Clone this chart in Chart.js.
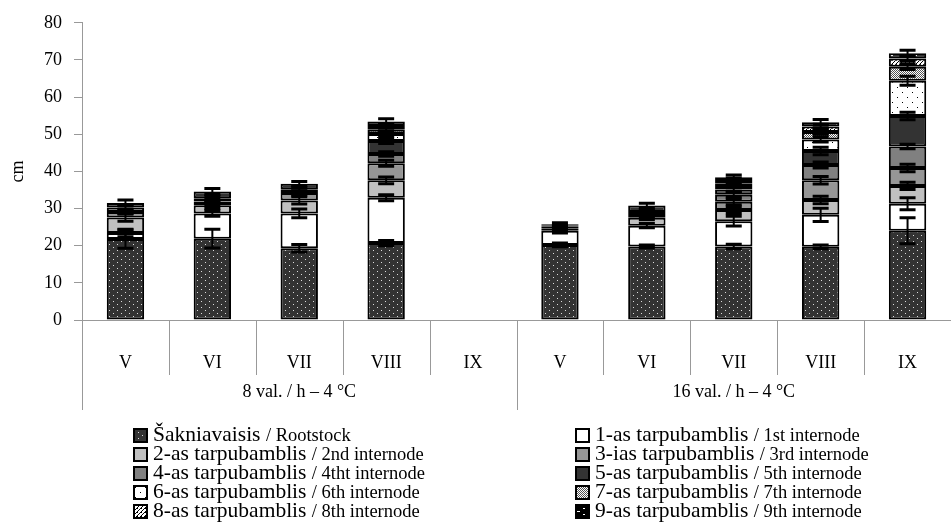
<!DOCTYPE html>
<html>
<head>
<meta charset="utf-8">
<script src="https://cdn.jsdelivr.net/npm/chart.js@4.4.1/dist/chart.umd.min.js"></script>
<style>
    html, body { margin: 0; padding: 0; background: #fff; }
    #wrap { position: relative; width: 951px; height: 525px; }
    #legend { position: absolute; left: 0; top: 0; font-family: "Liberation Serif", serif; color: #000; }
    .item { position: absolute; white-space: nowrap; height: 19px; line-height: 19px; padding-left: 20px; }
    .item canvas { position: absolute; left: 0; top: 3px; }
    .lt { font-size: 21.5px; }
    .en { font-size: 18.5px; }
</style>
</head>
<body>
<div id="wrap">
    <canvas id="chart" width="951" height="525"></canvas>
    <div id="legend"></div>
</div>
<script>
// categories: months, two photoperiod groups of five
const categories = ['V', 'VI', 'VII', 'VIII', 'IX', 'V', 'VI', 'VII', 'VIII', 'IX'];
const groups = ['8 val. / h – 4 °C', '16 val. / h – 4 °C'];
const groupSize = 5;

const namesLt = ['Šakniavaisis', '1-as tarpubamblis', '2-as tarpubamblis', '3-ias tarpubamblis', '4-as tarpubamblis',
    '5-as tarpubamblis', '6-as tarpubamblis', '7-as tarpubamblis', '8-as tarpubamblis', '9-as tarpubamblis'];
const namesEn = ['Rootstock', '1st internode', '2nd internode', '3rd internode', '4tht internode',
    '5th internode', '6th internode', '7th internode', '8th internode', '9th internode'];

// segment lengths, cm
const rootstock = [21.8, 21.9, 19.3, 20.7, null, 20.2, 19.8, 19.8, 19.7, 24.0];
const internode1 = [1.6, 6.8, 9.4, 12.2, null, 3.8, 5.6, 6.8, 8.6, 7.3];
const internode2 = [4.2, 2.2, 3.5, 4.7, null, 0.7, 2.1, 3.0, 4.0, 4.8];
const internode3 = [1.5, 1.0, 2.0, 4.6, null, 0.4, 1.0, 2.2, 5.3, 4.8];
const internode4 = [1.2, 0.9, 1.0, 2.5, null, 0.4, 0.6, 1.9, 4.1, 5.8];
const internode5 = [1.2, 1.8, 1.5, 3.5, null, 0.3, 1.7, 1.4, 3.8, 8.2];
const internode6 = [null, null, null, 1.9, null, null, null, 1.0, 3.1, 9.5];
const internode7 = [null, null, null, 1.1, null, null, null, 0.7, 2.0, 3.8];
const internode8 = [null, null, null, 1.0, null, null, null, 0.9, 1.5, 2.2];
const internode9 = [null, null, null, 1.2, null, null, null, 0.7, 1.1, 1.4];

// error (+/-), cm
const errRootstock = [2.5, 2.5, 1.0, 0.7, null, 0.5, 0.4, 0.6, 0.5, 3.5];
const err1 = [1.0, 0.8, 1.2, 0.8, null, 0.6, 0.6, 1.3, 1.8, 1.6];
const err2 = [1.0, 0.8, 1.0, 0.9, null, 0.5, 0.5, 0.9, 1.0, 1.0];
const err3 = [0.6, 0.8, 0.6, 0.8, null, 0.4, 0.8, 0.8, 1.0, 1.0];
const err4 = [0.6, 0.6, 0.5, 0.6, null, null, 0.5, 0.6, 0.8, 0.6];
const err5 = [0.8, 0.8, 0.6, 0.7, null, 0.4, 0.6, 0.6, 1.0, 1.0];
const err6 = [null, null, null, 0.6, null, null, null, 0.5, 0.7, 1.2];
const err7 = [null, null, null, 0.5, null, null, null, 0.5, 0.6, 0.8];
const err8 = [null, null, null, 0.5, null, null, null, 0.5, 0.6, 0.6];
const err9 = [null, null, null, 0.8, null, null, null, 0.6, 0.8, 0.8];

const yTicks = { min: 0, max: 80, step: 10 };

const seriesValues = [rootstock, internode1, internode2, internode3, internode4, internode5, internode6, internode7, internode8, internode9];
const seriesErrors = [errRootstock, err1, err2, err3, err4, err5, err6, err7, err8, err9];

const canvas = document.getElementById('chart');
const ctx = canvas.getContext('2d');

function tile(w, h, draw) {
    const c = document.createElement('canvas');
    c.width = w; c.height = h;
    draw(c.getContext('2d'));
    return c;
}
const tiles = [
    tile(8, 6, function (g) { g.fillStyle = '#333'; g.fillRect(0, 0, 8, 6); g.fillStyle = '#ddd'; g.fillRect(1, 1, 1, 1); g.fillRect(5, 4, 1, 1); }),
    tile(4, 4, function (g) { g.fillStyle = '#fff'; g.fillRect(0, 0, 4, 4); }),
    tile(4, 4, function (g) { g.fillStyle = '#c0c0c0'; g.fillRect(0, 0, 4, 4); }),
    tile(4, 4, function (g) { g.fillStyle = '#969696'; g.fillRect(0, 0, 4, 4); }),
    tile(4, 4, function (g) { g.fillStyle = '#808080'; g.fillRect(0, 0, 4, 4); }),
    tile(4, 4, function (g) { g.fillStyle = '#333'; g.fillRect(0, 0, 4, 4); }),
    tile(10, 10, function (g) { g.fillStyle = '#fff'; g.fillRect(0, 0, 10, 10); g.fillStyle = '#000'; g.fillRect(2, 2, 1, 1); g.fillRect(7, 7, 1, 1); }),
    tile(2, 2, function (g) { g.fillStyle = '#fff'; g.fillRect(0, 0, 2, 2); g.fillStyle = '#555'; g.fillRect(0, 0, 1, 1); g.fillRect(1, 1, 1, 1); }),
    tile(4, 4, function (g) { g.fillStyle = '#fff'; g.fillRect(0, 0, 4, 4); g.fillStyle = '#000'; g.fillRect(3, 0, 1, 1); g.fillRect(2, 1, 1, 1); g.fillRect(1, 2, 1, 1); g.fillRect(0, 3, 1, 1); g.fillRect(0, 0, 1, 1); }),
    tile(12, 6, function (g) { g.fillStyle = '#000'; g.fillRect(0, 0, 12, 6); g.fillStyle = '#fff'; g.fillRect(2, 1, 3, 1); g.fillRect(8, 4, 2, 1); })
];
const fills = tiles.map(function (t) { return ctx.createPattern(t, 'repeat'); });

const datasets = seriesValues.map(function (values, i) {
    return {
        label: namesLt[i] + ' / ' + namesEn[i],
        data: values,
        errors: seriesErrors[i],
        backgroundColor: fills[i],
        borderColor: '#000',
        borderWidth: 2,
        borderSkipped: false,
        barPercentage: 0.43,
        categoryPercentage: 1
    };
});

const errorBars = {
    id: 'errorBars',
    afterDatasetsDraw(chart) {
        const y = chart.scales.y;
        const g = chart.ctx;
        g.save();
        g.strokeStyle = '#000';
        chart.data.datasets.forEach(function (ds, i) {
            const meta = chart.getDatasetMeta(i);
            meta.data.forEach(function (bar, j) {
                const v = ds.data[j];
                const e = ds.errors[j];
                if (v == null || !e) return;
                let cum = 0;
                for (let k = 0; k <= i; k++) cum += chart.data.datasets[k].data[j] || 0;
                const hi = y.getPixelForValue(cum + e);
                const lo = y.getPixelForValue(cum - e);
                g.lineWidth = 2;
                g.beginPath();
                g.moveTo(bar.x, hi); g.lineTo(bar.x, lo);
                g.stroke();
                g.lineWidth = 3;
                g.beginPath();
                g.moveTo(bar.x - 8, hi); g.lineTo(bar.x + 8, hi);
                g.moveTo(bar.x - 8, lo); g.lineTo(bar.x + 8, lo);
                g.stroke();
            });
        });
        g.restore();
    }
};

const axisDecor = {
    id: 'axisDecor',
    afterDraw(chart) {
        const x = chart.scales.x;
        const area = chart.chartArea;
        const g = chart.ctx;
        const slot = x.getPixelForValue(1) - x.getPixelForValue(0);
        g.save();
        g.strokeStyle = '#999';
        g.lineWidth = 1;
        for (let i = 0; i < categories.length; i++) {
            const bx = Math.round(x.getPixelForValue(i) - slot / 2) + 0.5;
            g.beginPath();
            g.moveTo(bx, area.bottom);
            g.lineTo(bx, area.bottom + (i % groupSize === 0 ? 90 : 55));
            g.stroke();
        }
        g.fillStyle = '#000';
        g.font = '18px "Liberation Serif", serif';
        g.textAlign = 'center';
        g.textBaseline = 'middle';
        groups.forEach(function (name, gi) {
            const first = x.getPixelForValue(gi * groupSize) - slot / 2;
            const last = x.getPixelForValue(gi * groupSize + groupSize - 1) + slot / 2;
            g.fillText(name, (first + last) / 2, area.bottom + 72);
        });
        g.restore();
    }
};

new Chart(canvas, {
    type: 'bar',
    data: { labels: categories, datasets: datasets },
    options: {
        responsive: false,
        animation: false,
        devicePixelRatio: 1,
        layout: { padding: { top: 18, right: 0, left: 0, bottom: 0 } },
        plugins: { legend: { display: false }, tooltip: { enabled: false } },
        scales: {
            x: {
                stacked: true,
                grid: { display: false, drawTicks: false },
                border: { color: '#999' },
                ticks: { color: '#000', padding: 32, autoSkip: false, maxRotation: 0, font: { family: '"Liberation Serif", serif', size: 18 } },
                afterFit: function (scale) { scale.height = 205; }
            },
            y: {
                stacked: true,
                min: yTicks.min,
                max: yTicks.max,
                grid: { drawOnChartArea: false, color: '#999', tickLength: 8 },
                border: { color: '#999' },
                ticks: { stepSize: yTicks.step, color: '#000', padding: 12, font: { family: '"Liberation Serif", serif', size: 18 } },
                title: { display: true, text: 'cm', color: '#000', padding: { top: 7, bottom: 0 }, font: { family: '"Liberation Serif", serif', size: 18 } },
                afterFit: function (scale) { scale.width = 82; }
            }
        }
    },
    plugins: [errorBars, axisDecor]
});

// legend: two columns, real text
const legend = document.getElementById('legend');
seriesValues.forEach(function (values, i) {
    const col = i % 2;
    const row = Math.floor(i / 2);
    const item = document.createElement('div');
    item.className = 'item';
    item.style.left = (col === 0 ? 133 : 575) + 'px';
    item.style.top = (425 + row * 19) + 'px';
    const sw = document.createElement('canvas');
    sw.width = 15; sw.height = 15;
    const sg = sw.getContext('2d');
    sg.fillStyle = sg.createPattern(tiles[i], 'repeat');
    sg.fillRect(0, 0, 15, 15);
    sg.strokeStyle = '#000';
    sg.lineWidth = 2;
    sg.strokeRect(1, 1, 13, 13);
    item.appendChild(sw);
    const lt = document.createElement('span');
    lt.className = 'lt';
    lt.textContent = namesLt[i] + ' ';
    const en = document.createElement('span');
    en.className = 'en';
    en.textContent = '/ ' + namesEn[i];
    item.appendChild(lt);
    item.appendChild(en);
    legend.appendChild(item);
});
</script>
</body>
</html>
